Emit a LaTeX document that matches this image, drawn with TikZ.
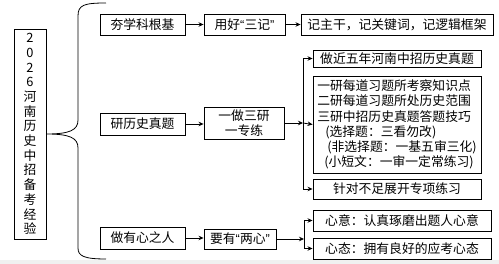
\documentclass[tikz,border=0pt]{standalone}
\usepackage{fontspec}
\setmainfont{Noto Sans CJK SC}
\newfontfamily\quotefont{Liberation Sans}
\usetikzlibrary{arrows.meta}

\begin{document}
\begin{tikzpicture}[x=1pt,y=1pt,yscale=-1,
	box/.style={draw,line width=0.9pt,inner sep=0pt,font=\fontsize{12.8}{15}\selectfont},
	link/.style={line width=0.8pt,-{Stealth[length=5pt,width=4.5pt]}},
	brace/.style={line width=0.8pt}]
	\useasboundingbox (0,0) rectangle (499,264);
	\fill[black!6] (0,260) rectangle (499,264);
	
	%Shape: Rectangle [title]
	\node[box,minimum width=32pt,minimum height=210pt,align=center,font=\fontsize{12.8}{14.7}\selectfont] (root) at (30,134) {2\\0\\2\\6\\河\\南\\历\\史\\中\\招\\备\\考\\经\\验};
	%Curve Lines [brace]
	\draw[brace] (106,3) .. controls (84,3) and (78,5) .. (78,16) -- (78,120) .. controls (78,130) and (70,134) .. (root.east) .. controls (70,134) and (78,138) .. (78,148) -- (78,248) .. controls (78,256) and (84,259) .. (106,259);
	
	% Text Node
	\node[box,minimum width=85pt,minimum height=21pt] (jichu) at (142.5,24.5) {夯学科根基};
	% Text Node
	\node[box,minimum width=85pt,minimum height=22pt] (zhenti) at (142.5,124) {研历史真题};
	% Text Node
	\node[box,minimum width=85pt,minimum height=22pt] (youxin) at (142.5,238) {做有心之人};
	
	% Text Node
	\node[box,minimum width=81pt,minimum height=21pt] (sanji) at (244.5,24.5) {用好{\quotefont “}三记{\quotefont ”}};
	% Text Node
	\node[box,minimum width=80pt,minimum height=32pt,align=center] (yizuo) at (244,123) {一做三研\\一专练};
	% Text Node
	\node[box,minimum width=72pt,minimum height=20pt] (liangxin) at (240,239) {要有{\quotefont “}两心{\quotefont ”}};
	
	% Text Node
	\node[box,minimum width=192pt,minimum height=21pt] (jizhu) at (397,24.5) {记主干，记关键词，记逻辑框架};
	% Text Node
	\node[box,minimum width=168pt,minimum height=17pt] (jinwu) at (397,58.5) {做近五年河南中招历史真题};
	% Text Node
	\node[box,minimum width=168pt,minimum height=97pt,align=left,font=\fontsize{12.8}{15.2}\selectfont] (sanyan) at (397,124.5) {一研每道习题所考察知识点\\二研每道习题所处历史范围\\三研中招历史真题答题技巧\\\hspace*{8pt}(选择题：三看勿改)\\\hspace*{10pt}(非选择题：一基五审三化)\\\hspace*{7pt}(小短文：一审一定常练习)};
	% Text Node
	\node[box,minimum width=168pt,minimum height=20pt] (zhuanxiang) at (397,189) {针对不足展开专项练习};
	% Text Node
	\node[box,minimum width=178pt,minimum height=21pt] (xinyi) at (402,220.5) {心意：认真琢磨出题人心意};
	% Text Node
	\node[box,minimum width=178pt,minimum height=21pt] (xintai) at (402,248.5) {心态：拥有良好的应考心态};
	
	%Straight Lines
	\draw[link] (jichu) -- (sanji);
	\draw[link] (sanji) -- (jizhu);
	\draw[link] (zhenti.east) -- (yizuo.west |- zhenti.east);
	\draw[link] (youxin.east) -- (liangxin.west |- youxin.east);
	
	%Straight Lines [fork]
	\coordinate (fyan) at (303,123);
	\draw[link] (yizuo.east) -- (fyan);
	\draw[link] (fyan) |- (jinwu.west);
	\draw[link] (fyan) -- (sanyan.west);
	\draw[link] (fyan) |- (zhuanxiang.west);
	
	\coordinate (fxin) at (304,239);
	\draw[link] (liangxin.east) -- (fxin);
	\draw[link] (fxin) |- (xinyi.west);
	\draw[link] (fxin) |- (xintai.west);
\end{tikzpicture}
\end{document}
